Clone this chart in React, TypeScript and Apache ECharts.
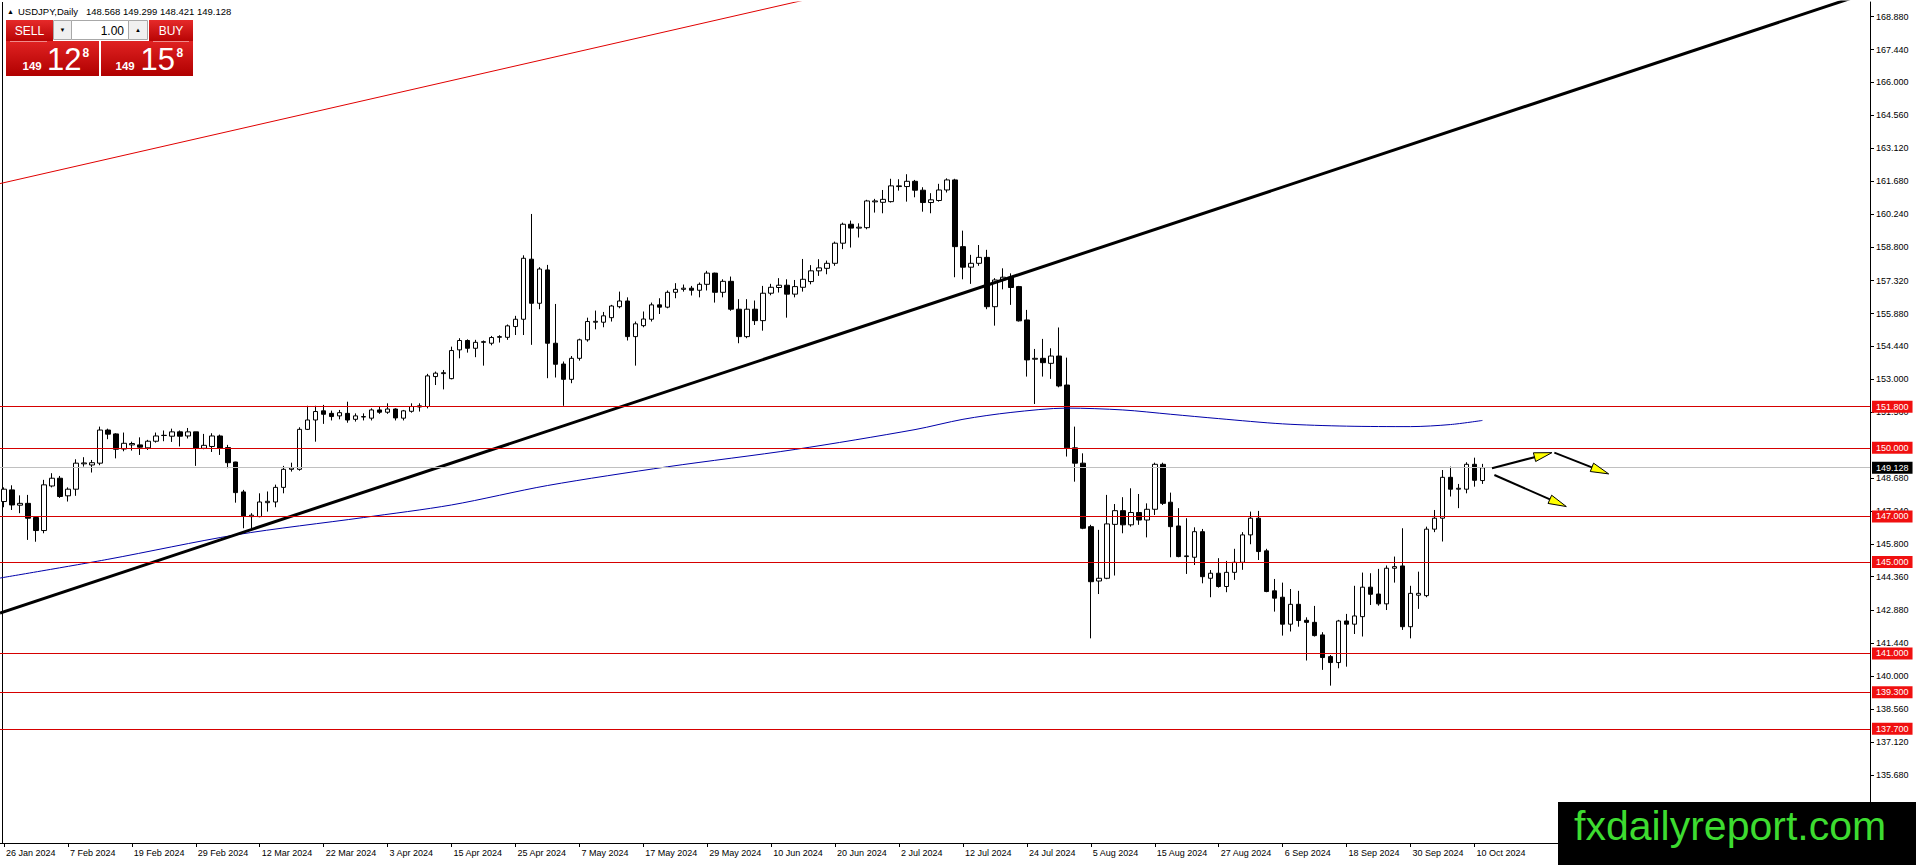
import React, { useEffect, useRef } from 'react';
import * as echarts from 'echarts';

// ---------- data ----------
const symbolTitle = 'USDJPY,Daily';
const headerOHLC = [148.568, 149.299, 148.421, 149.128];
const bidPrice = '149.128';
const askPrice = '149.158';
const lotSize = '1.00';

const dateLabels = [
  '26 Jan 2024', '7 Feb 2024', '19 Feb 2024', '29 Feb 2024', '12 Mar 2024', '22 Mar 2024',
  '3 Apr 2024', '15 Apr 2024', '25 Apr 2024', '7 May 2024', '17 May 2024', '29 May 2024',
  '10 Jun 2024', '20 Jun 2024', '2 Jul 2024', '12 Jul 2024', '24 Jul 2024', '5 Aug 2024',
  '15 Aug 2024', '27 Aug 2024', '6 Sep 2024', '18 Sep 2024', '30 Sep 2024', '10 Oct 2024',
];
const labelStep = 8;
const slotCount = 234;

// [open, high, low, close]
const ohlc: number[][] = [
  [147.65, 148.27, 147.40, 148.19], [148.16, 148.36, 147.28, 147.50], [147.49, 147.92, 147.14, 147.57],
  [147.57, 147.94, 145.97, 146.92], [146.95, 146.99, 145.89, 146.38], [146.38, 148.60, 146.26, 148.38],
  [148.33, 148.89, 148.27, 148.67], [148.67, 148.77, 147.81, 147.87], [147.90, 148.27, 147.65, 148.19],
  [148.19, 149.50, 147.90, 149.33], [149.30, 149.59, 149.18, 149.34], [149.25, 149.47, 148.92, 149.35],
  [149.33, 150.93, 149.24, 150.78], [150.78, 150.84, 150.38, 150.60], [150.61, 150.64, 149.54, 149.94],
  [149.95, 150.67, 149.85, 150.20], [150.13, 150.27, 149.88, 150.19], [150.13, 150.46, 149.69, 150.03],
  [150.00, 150.35, 149.91, 150.29], [150.29, 150.67, 150.23, 150.52], [150.54, 150.76, 150.29, 150.55],
  [150.51, 150.84, 150.26, 150.70], [150.70, 150.76, 150.06, 150.51], [150.52, 150.87, 150.41, 150.70],
  [150.70, 150.70, 149.21, 149.98], [149.98, 150.61, 149.94, 150.11], [150.06, 150.64, 149.82, 150.52],
  [150.52, 150.58, 149.69, 149.98], [150.01, 150.13, 149.11, 149.35], [149.38, 149.39, 147.60, 148.04],
  [148.07, 148.16, 146.48, 147.02], [146.99, 147.14, 146.49, 147.05], [146.99, 148.01, 146.96, 147.63],
  [147.60, 148.09, 147.21, 147.66], [147.63, 148.39, 147.40, 148.27], [148.27, 149.21, 148.01, 149.06],
  [149.06, 149.35, 148.96, 149.12], [149.06, 150.90, 149.00, 150.81], [150.81, 151.84, 150.78, 151.22],
  [151.22, 151.84, 150.27, 151.59], [151.62, 151.88, 151.05, 151.47], [151.51, 151.63, 151.20, 151.37],
  [151.40, 151.66, 151.25, 151.54], [151.51, 152.02, 151.10, 151.22], [151.25, 151.51, 151.15, 151.40],
  [151.35, 151.51, 151.20, 151.37], [151.30, 151.73, 151.20, 151.66], [151.66, 151.81, 151.49, 151.56],
  [151.56, 151.95, 151.49, 151.70], [151.70, 151.73, 151.20, 151.31], [151.30, 151.66, 151.20, 151.62],
  [151.60, 151.95, 151.54, 151.81], [151.79, 151.95, 151.59, 151.84], [151.81, 153.24, 151.73, 153.15],
  [153.12, 153.34, 152.75, 153.27], [153.25, 153.41, 152.56, 153.29], [153.03, 154.43, 153.00, 154.26],
  [154.29, 154.80, 153.92, 154.70], [154.70, 154.75, 154.17, 154.36], [154.36, 154.73, 153.97, 154.62],
  [154.62, 154.70, 153.60, 154.65], [154.58, 154.90, 154.49, 154.83], [154.84, 154.93, 154.61, 154.87],
  [154.84, 155.40, 154.73, 155.34], [155.31, 155.78, 154.94, 155.63], [155.63, 158.43, 154.94, 158.30],
  [158.26, 160.24, 154.51, 156.33], [156.33, 157.91, 156.07, 157.83], [157.79, 158.01, 153.05, 154.58],
  [154.58, 156.30, 153.08, 153.66], [153.67, 153.78, 151.84, 153.00], [153.00, 154.02, 152.83, 153.92],
  [153.92, 154.78, 153.82, 154.73], [154.73, 155.70, 154.65, 155.53], [155.50, 156.01, 155.19, 155.54],
  [155.50, 155.95, 155.28, 155.78], [155.70, 156.26, 155.53, 156.21], [156.18, 156.84, 156.11, 156.43],
  [156.43, 156.59, 154.70, 154.87], [154.87, 155.53, 153.60, 155.43], [155.35, 155.97, 155.28, 155.64],
  [155.63, 156.36, 155.53, 156.26], [156.26, 156.55, 155.86, 156.16], [156.16, 156.89, 156.11, 156.81],
  [156.81, 157.21, 156.55, 156.94], [156.94, 157.15, 156.84, 156.99], [156.99, 157.09, 156.67, 156.90],
  [156.90, 157.24, 156.59, 157.16], [157.16, 157.75, 156.89, 157.65], [157.65, 157.67, 156.36, 156.81],
  [156.81, 157.38, 156.59, 157.29], [157.29, 157.50, 156.00, 156.07], [156.07, 156.51, 154.58, 154.87],
  [154.87, 156.51, 154.80, 156.07], [156.07, 156.45, 155.38, 155.57], [155.57, 157.09, 155.13, 156.77],
  [156.77, 157.18, 156.68, 157.03], [157.02, 157.43, 156.80, 157.12], [157.12, 157.38, 155.70, 156.73],
  [156.73, 157.35, 156.59, 157.06], [157.03, 158.27, 156.84, 157.38], [157.28, 158.00, 157.16, 157.75],
  [157.75, 158.26, 157.53, 157.88], [157.86, 158.20, 157.60, 158.08], [158.08, 159.03, 157.97, 158.96],
  [158.96, 159.86, 158.70, 159.79], [159.79, 159.95, 158.77, 159.62], [159.62, 159.83, 159.21, 159.66],
  [159.64, 160.86, 159.57, 160.81], [160.77, 160.90, 160.30, 160.81], [160.75, 161.29, 160.27, 160.88],
  [160.78, 161.78, 160.74, 161.47], [161.44, 161.76, 161.26, 161.47], [161.44, 161.98, 160.78, 161.67],
  [161.67, 161.73, 160.97, 161.28], [161.28, 161.41, 160.34, 160.74], [160.74, 161.15, 160.27, 160.86],
  [160.83, 161.56, 160.78, 161.29], [161.29, 161.80, 161.18, 161.73], [161.73, 161.78, 157.47, 158.81],
  [158.81, 159.51, 157.38, 157.91], [157.91, 158.45, 157.18, 158.08], [158.08, 158.88, 157.97, 158.34],
  [158.34, 158.67, 156.07, 156.18], [156.18, 157.43, 155.35, 157.35], [157.35, 157.86, 156.94, 157.47],
  [157.47, 157.64, 156.26, 157.02], [157.06, 157.09, 155.53, 155.56], [155.60, 156.04, 153.12, 153.85],
  [153.88, 154.33, 151.92, 153.92], [153.92, 154.77, 153.12, 153.73], [153.70, 154.36, 153.02, 154.02],
  [154.02, 155.27, 152.65, 152.71], [152.75, 153.95, 149.62, 150.00], [150.00, 150.93, 148.52, 149.33],
  [149.33, 149.76, 146.44, 146.48], [146.55, 146.63, 141.66, 144.14], [144.17, 146.41, 143.60, 144.29],
  [144.29, 147.94, 144.25, 146.67], [146.65, 147.54, 144.41, 147.25], [147.25, 147.84, 146.26, 146.63],
  [146.63, 148.23, 146.55, 147.17], [147.17, 147.98, 146.63, 146.84], [146.84, 147.57, 146.08, 147.31],
  [147.31, 149.35, 147.06, 149.28], [149.28, 149.35, 147.50, 147.57], [147.62, 148.04, 145.21, 146.55],
  [146.58, 147.36, 145.21, 145.24], [145.24, 146.92, 144.48, 145.27], [145.21, 146.52, 144.87, 146.33],
  [146.33, 146.45, 144.07, 144.36], [144.29, 144.65, 143.46, 144.51], [144.51, 145.17, 143.88, 143.93],
  [143.93, 145.05, 143.68, 144.55], [144.55, 145.58, 144.22, 144.99], [144.99, 146.31, 144.66, 146.19],
  [146.19, 147.21, 145.78, 146.92], [146.92, 147.24, 145.09, 145.46], [145.49, 145.58, 143.68, 143.71],
  [143.74, 144.26, 142.83, 143.42], [143.46, 144.10, 141.78, 142.28], [142.28, 143.82, 141.96, 143.15],
  [143.15, 143.74, 142.17, 142.44], [142.45, 142.58, 140.69, 142.36], [142.36, 143.08, 141.74, 141.78],
  [141.81, 141.93, 140.28, 140.82], [140.86, 140.93, 139.59, 140.60], [140.60, 142.47, 140.35, 142.42],
  [142.42, 142.73, 140.42, 142.28], [142.28, 143.96, 141.85, 142.64], [142.61, 144.54, 141.74, 143.90],
  [143.90, 144.51, 143.12, 143.59], [143.60, 144.70, 143.09, 143.17], [143.17, 144.85, 142.90, 144.73],
  [144.73, 145.24, 144.10, 144.80], [144.83, 146.48, 142.03, 142.17], [142.17, 143.96, 141.66, 143.63],
  [143.55, 144.58, 142.95, 143.63], [143.53, 146.55, 143.46, 146.44], [146.44, 147.28, 146.31, 146.92],
  [146.92, 149.03, 145.90, 148.71], [148.71, 149.18, 147.87, 148.19], [148.19, 148.42, 147.36, 148.23],
  [148.19, 149.37, 148.01, 149.28], [149.28, 149.57, 148.30, 148.58], [148.568, 149.299, 148.421, 149.128],
];

// moving average read at points along the blue curve: [bar index, price]
const maPoints = [
  [-0.5, 144.30], [13, 145.12], [29, 146.19], [45, 146.95], [56, 147.50], [68, 148.35],
  [83, 149.17], [99, 149.93], [114, 150.80], [120, 151.25], [126, 151.55], [133, 151.74],
  [140, 151.66], [146, 151.47], [152, 151.28], [160, 151.05], [168, 150.95], [176, 150.93],
  [181, 151.02], [185, 151.20],
];

const levels = [151.8, 150.0, 147.0, 145.0, 141.0, 139.3, 137.7];
const lastPrice = 149.128;

const priceTicks = [
  168.88, 167.44, 166.0, 164.56, 163.12, 161.68, 160.24, 158.8, 157.32, 155.88, 154.44, 153.0,
  151.56, 148.68, 147.24, 145.8, 144.36, 142.88, 141.44, 140.0, 138.56, 137.12, 135.68,
];
const priceMin = 132.70;
const priceMax = 169.52;

// trend lines: [bar index, price]
const blackTrend = [[-0.5, 142.77], [233.5, 169.96]];
const redTrend = [[-0.5, 161.57], [124.5, 171.55]];
// arrows: [x1, y1, x2(tip), y2(tip)]
const arrows = [
  [186.2, 149.11, 193.7, 149.79],
  [194.0, 149.79, 200.8, 148.86],
  [186.5, 148.81, 195.5, 147.43],
];
const logoText = 'fxdailyreport.com';

const FONT = '"Liberation Sans", Arial, "DejaVu Sans", sans-serif';

function labelFor(i: number): string {
  return i % labelStep === 0 && i / labelStep < dateLabels.length ? dateLabels[i / labelStep] : '';
}

function splitPrice(p: string) {
  const [big, frac] = p.split('.');
  return { big, mid: frac.slice(0, 2), pip: frac.slice(2) };
}

export default function App() {
  const ref = useRef<HTMLDivElement>(null);

  useEffect(() => {
    if (!ref.current) return;
    const chart = echarts.init(ref.current, undefined, { renderer: 'svg' });

    const categories = Array.from({ length: slotCount }, (_, i) => String(i));
    const candleData = ohlc.map(([o, h, l, c]) => [o, c, l, h]);

    const levelLines: any[] = levels.map((v) => ({
      yAxis: v,
      lineStyle: { color: '#d60000', width: 1, type: 'solid' },
      label: {
        show: true,
        position: 'end',
        distance: 2,
        formatter: v.toFixed(3),
        color: '#ffffff',
        backgroundColor: '#f01010',
        fontSize: 9,
        fontFamily: FONT,
        padding: [1, 4, 1, 4],
        lineHeight: 10,
      },
    }));
    levelLines.push({
      yAxis: lastPrice,
      lineStyle: { color: '#c0c0c0', width: 1, type: 'solid' },
      label: {
        show: true,
        position: 'end',
        distance: 2,
        formatter: lastPrice.toFixed(3),
        color: '#ffffff',
        backgroundColor: '#000000',
        fontSize: 9,
        fontFamily: FONT,
        padding: [1, 4, 1, 4],
        lineHeight: 10,
      },
    });

    const sell = splitPrice(bidPrice);
    const buy = splitPrice(askPrice);
    const redGrad = new echarts.graphic.LinearGradient(0, 0, 0, 1, [
      { offset: 0, color: '#e62a2a' },
      { offset: 1, color: '#b80404' },
    ]);
    const redGrad2 = new echarts.graphic.LinearGradient(0, 0, 0, 1, [
      { offset: 0, color: '#e02222' },
      { offset: 1, color: '#b00000' },
    ]);

    const white = '#ffffff';
    const graphics: any[] = [
      // left frame
      { type: 'line', silent: true, shape: { x1: 2.5, y1: 2, x2: 2.5, y2: 843 }, style: { stroke: '#000', lineWidth: 1 } },
      // header
      { type: 'text', silent: true, style: { x: 7, y: 11, text: '▲', fontSize: 7, fill: '#000', verticalAlign: 'middle', fontFamily: FONT } },
      { type: 'text', silent: true, style: { x: 18, y: 11, text: symbolTitle, fontSize: 9.5, fill: '#000', verticalAlign: 'middle', fontFamily: FONT } },
      { type: 'text', silent: true, style: { x: 86, y: 11, text: headerOHLC.map((v) => v.toFixed(3)).join(' '), fontSize: 9.5, fill: '#000', verticalAlign: 'middle', fontFamily: FONT } },
      // one-click trading panel
      { type: 'rect', silent: true, shape: { x: 6, y: 20, width: 47, height: 21 }, style: { fill: redGrad } },
      { type: 'rect', silent: true, shape: { x: 149, y: 20, width: 44, height: 21 }, style: { fill: redGrad } },
      { type: 'rect', silent: true, shape: { x: 6, y: 41, width: 93, height: 35 }, style: { fill: redGrad2 } },
      { type: 'rect', silent: true, shape: { x: 101, y: 41, width: 92, height: 35 }, style: { fill: redGrad2 } },
      { type: 'line', silent: true, shape: { x1: 10, y1: 41.5, x2: 47, y2: 41.5 }, style: { stroke: '#f08a8a', lineWidth: 1 } },
      { type: 'line', silent: true, shape: { x1: 153, y1: 41.5, x2: 189, y2: 41.5 }, style: { stroke: '#f08a8a', lineWidth: 1 } },
      { type: 'rect', silent: true, shape: { x: 53.5, y: 20.5, width: 18, height: 19 }, style: { fill: '#f0f0f0', stroke: '#a8a8a8', lineWidth: 1 } },
      { type: 'rect', silent: true, shape: { x: 71.5, y: 20.5, width: 57, height: 19 }, style: { fill: '#ffffff', stroke: '#a8a8a8', lineWidth: 1 } },
      { type: 'rect', silent: true, shape: { x: 128.5, y: 20.5, width: 19, height: 19 }, style: { fill: '#f0f0f0', stroke: '#a8a8a8', lineWidth: 1 } },
      { type: 'text', silent: true, style: { x: 62.5, y: 30, text: '▼', fontSize: 6, fill: '#000', align: 'center', verticalAlign: 'middle', fontFamily: FONT } },
      { type: 'text', silent: true, style: { x: 138, y: 29.5, text: '▲', fontSize: 6, fill: '#000', align: 'center', verticalAlign: 'middle', fontFamily: FONT } },
      { type: 'text', silent: true, style: { x: 124, y: 30.5, text: lotSize, fontSize: 12, fill: '#000', align: 'right', verticalAlign: 'middle', fontFamily: FONT } },
      { type: 'text', silent: true, style: { x: 29.5, y: 31, text: 'SELL', fontSize: 12, fill: white, align: 'center', verticalAlign: 'middle', fontFamily: FONT } },
      { type: 'text', silent: true, style: { x: 171, y: 31, text: 'BUY', fontSize: 12, fill: white, align: 'center', verticalAlign: 'middle', fontFamily: FONT } },
      { type: 'text', silent: true, style: { x: 22.5, y: 65.5, text: sell.big, fontSize: 11.5, fontWeight: 'bold', fill: white, verticalAlign: 'middle', fontFamily: FONT } },
      { type: 'text', silent: true, style: { x: 47, y: 59, text: sell.mid, fontSize: 31, fill: white, verticalAlign: 'middle', fontFamily: FONT } },
      { type: 'text', silent: true, style: { x: 82.5, y: 52.5, text: sell.pip, fontSize: 12, fontWeight: 'bold', fill: white, verticalAlign: 'middle', fontFamily: FONT } },
      { type: 'text', silent: true, style: { x: 115.5, y: 65.5, text: buy.big, fontSize: 11.5, fontWeight: 'bold', fill: white, verticalAlign: 'middle', fontFamily: FONT } },
      { type: 'text', silent: true, style: { x: 140.5, y: 59, text: buy.mid, fontSize: 31, fill: white, verticalAlign: 'middle', fontFamily: FONT } },
      { type: 'text', silent: true, style: { x: 176.5, y: 52.5, text: buy.pip, fontSize: 12, fontWeight: 'bold', fill: white, verticalAlign: 'middle', fontFamily: FONT } },
      // logo
      { type: 'rect', silent: true, z: 100, shape: { x: 1558, y: 802, width: 358, height: 63 }, style: { fill: '#000000' } },
      { type: 'text', silent: true, z: 101, style: { x: 1574, y: 826, text: logoText, fontSize: 41, fill: '#3ddc30', verticalAlign: 'middle', fontFamily: FONT } },
    ];

    const option: any = {
      animation: false,
      backgroundColor: '#ffffff',
      textStyle: { fontFamily: FONT },
      grid: { left: -1, right: 46, top: 2, bottom: 22, containLabel: false, show: false },
      xAxis: [
        {
          type: 'category',
          data: categories,
          boundaryGap: true,
          axisLine: { show: true, onZero: false, lineStyle: { color: '#000', width: 1 } },
          axisTick: {
            show: true,
            alignWithLabel: true,
            length: 4,
            lineStyle: { color: '#000' },
            interval: (i: number) => labelFor(i) !== '',
          },
          axisLabel: {
            show: true,
            interval: (i: number) => labelFor(i) !== '',
            formatter: (_v: string, i: number) => labelFor(i),
            align: 'left',
            padding: [0, 0, 0, 2],
            margin: 5,
            fontSize: 9,
            color: '#000',
            fontFamily: FONT,
          },
          splitLine: { show: false },
        },
        { type: 'value', min: -0.5, max: slotCount - 0.5, show: false, axisLine: { onZero: false } },
      ],
      yAxis: {
        type: 'value',
        position: 'right',
        min: priceMin,
        max: priceMax,
        axisLine: { show: true, onZero: false, lineStyle: { color: '#000', width: 1 } },
        axisTick: { show: true, length: 4, lineStyle: { color: '#000' }, customValues: priceTicks },
        axisLabel: {
          show: true,
          customValues: priceTicks,
          formatter: (v: number) => v.toFixed(3),
          margin: 6,
          fontSize: 9,
          color: '#000',
          fontFamily: FONT,
        },
        splitLine: { show: false },
      },
      series: [
        {
          type: 'candlestick',
          xAxisIndex: 0,
          yAxisIndex: 0,
          data: candleData,
          barWidth: 5,
          z: 2,
          itemStyle: {
            color: '#ffffff',
            color0: '#000000',
            borderColor: '#000000',
            borderColor0: '#000000',
            borderWidth: 1,
          },
          markLine: {
            silent: true,
            symbol: ['none', 'none'],
            animation: false,
            data: levelLines,
          },
        },
        {
          type: 'line',
          xAxisIndex: 1,
          yAxisIndex: 0,
          data: maPoints,
          smooth: 0.3,
          showSymbol: false,
          symbol: 'none',
          z: 3,
          lineStyle: { color: '#0000aa', width: 1 },
        },
        {
          type: 'line',
          xAxisIndex: 1,
          yAxisIndex: 0,
          data: redTrend,
          symbol: 'none',
          z: 3,
          lineStyle: { color: '#e00000', width: 1 },
        },
        {
          type: 'line',
          xAxisIndex: 1,
          yAxisIndex: 0,
          data: blackTrend,
          symbol: 'none',
          z: 4,
          lineStyle: { color: '#000000', width: 3 },
        },
        {
          type: 'custom',
          xAxisIndex: 1,
          yAxisIndex: 0,
          data: arrows,
          encode: { x: [0, 2], y: [1, 3] },
          z: 5,
          silent: true,
          renderItem: (_params: any, api: any) => {
            const s = api.coord([api.value(0), api.value(1)]);
            const e = api.coord([api.value(2), api.value(3)]);
            const dx = e[0] - s[0];
            const dy = e[1] - s[1];
            const len = Math.hypot(dx, dy) || 1;
            const ux = dx / len;
            const uy = dy / len;
            const headLen = 18;
            const headHalf = 4.5;
            const bx = e[0] - ux * headLen;
            const by = e[1] - uy * headLen;
            const nx = -uy;
            const ny = ux;
            return {
              type: 'group',
              children: [
                { type: 'line', shape: { x1: s[0], y1: s[1], x2: bx + ux * 2, y2: by + uy * 2 }, style: { stroke: '#000', lineWidth: 2 } },
                {
                  type: 'polygon',
                  shape: { points: [[e[0], e[1]], [bx + nx * headHalf, by + ny * headHalf], [bx - nx * headHalf, by - ny * headHalf]] },
                  style: { fill: '#ffff00', stroke: '#000', lineWidth: 1 },
                },
              ],
            };
          },
        },
      ],
      graphic: graphics,
    };

    chart.setOption(option);
    return () => chart.dispose();
  }, []);

  return (
    <div
      ref={ref}
      style={{ position: 'fixed', left: 0, top: 0, width: 1916, height: 865, background: '#fff' }}
    />
  );
}
